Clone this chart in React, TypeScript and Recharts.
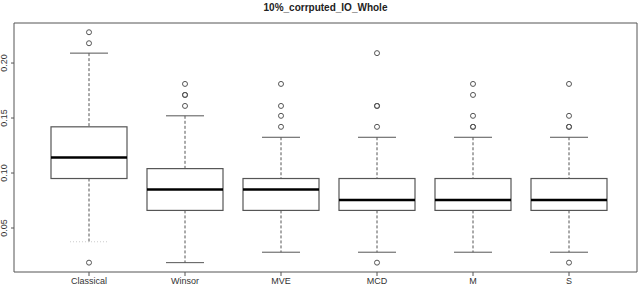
import { Bar, ComposedChart, Scatter, XAxis, YAxis } from "recharts";

const categories = ["Classical", "Winsor", "MVE", "MCD", "M", "S"];
const lowWhisker = [0.0375, 0.0185, 0.028, 0.028, 0.028, 0.028];
const q1 = [0.095, 0.066, 0.066, 0.066, 0.066, 0.066];
const median = [0.114, 0.085, 0.085, 0.0755, 0.0755, 0.0755];
const q3 = [0.142, 0.104, 0.095, 0.095, 0.095, 0.095];
const highWhisker = [0.209, 0.152, 0.1325, 0.1325, 0.1325, 0.1325];
const outliers = [
  [0.228, 0.218, 0.0185],
  [0.181, 0.171, 0.171, 0.161],
  [0.181, 0.161, 0.152, 0.142],
  [0.209, 0.161, 0.161, 0.142, 0.0185],
  [0.181, 0.171, 0.152, 0.142, 0.142],
  [0.181, 0.152, 0.142, 0.142, 0.0185],
];
const yTicks = [0.05, 0.1, 0.15, 0.2];

const maxOut = Math.max(...outliers.map((o) => o.length));
const outKeys = Array.from({ length: maxOut }, (_, k) => `o${k}`);

const data = categories.map((name, i) => {
  const row: any = {
    name,
    range: [lowWhisker[i], highWhisker[i]],
    q1: q1[i],
    median: median[i],
    q3: q3[i],
  };
  outKeys.forEach((key, k) => {
    row[key] = outliers[i][k] ?? null;
  });
  return row;
});

const FONT = "'Liberation Sans', Arial, sans-serif";
const LINE = "#555";

function BoxShape(props: any) {
  const { x, y, width, height, payload, index } = props;
  const [lo, hi] = payload.range;
  const py = (v: number) => y + ((hi - v) / (hi - lo)) * height;
  const cx = x + width / 2;
  const cap = width / 2;
  const yq1 = py(payload.q1);
  const yq3 = py(payload.q3);
  const ymed = py(payload.median);
  return (
    <g>
      <line x1={cx} x2={cx} y1={y} y2={yq3} stroke={LINE} strokeDasharray="3 2" />
      <line x1={cx} x2={cx} y1={yq1} y2={y + height} stroke={LINE} strokeDasharray="3 2" />
      <line x1={cx - cap / 2} x2={cx + cap / 2} y1={y} y2={y} stroke={LINE} />
      <line
        x1={cx - cap / 2}
        x2={cx + cap / 2}
        y1={y + height}
        y2={y + height}
        stroke={index === 0 ? "#ccc" : LINE}
        strokeDasharray={index === 0 ? "1 2" : undefined}
      />
      <rect x={x} y={yq3} width={width} height={yq1 - yq3} fill="#fff" stroke={LINE} strokeWidth={1.2} />
      <line x1={x} x2={x + width} y1={ymed} y2={ymed} stroke="#000" strokeWidth={2.5} />
    </g>
  );
}

function OutlierDot(props: any) {
  const { cx, cy, payload, field } = props;
  if (!Number.isFinite(cx) || !Number.isFinite(cy)) return <g />;
  if (payload && field && payload[field] == null) return <g />;
  return <circle cx={cx} cy={cy} r={2.5} fill="none" stroke={LINE} strokeWidth={1} />;
}

function YTick(props: any) {
  const { x, y, payload } = props;
  return (
    <text
      x={x - 2}
      y={y}
      transform={`rotate(-90 ${x - 2} ${y})`}
      textAnchor="middle"
      fontSize={9}
      fontFamily={FONT}
      fill="#333"
    >
      {payload.value.toFixed(2)}
    </text>
  );
}

export default function App() {
  return (
    <div style={{ position: "absolute", left: 0, top: 0, width: 640, height: 290, background: "#fff" }}>
      <div
        style={{
          position: "absolute",
          left: 14,
          width: 623,
          top: 2,
          textAlign: "center",
          fontFamily: FONT,
          fontWeight: "bold",
          fontSize: 10,
          color: "#222",
        }}
      >
        10%_corrputed_IO_Whole
      </div>
      <ComposedChart
        width={640}
        height={290}
        data={data}
        margin={{ top: 22, right: 0, bottom: 0, left: 0 }}
        barSize={76}
      >
        <XAxis
          dataKey="name"
          type="category"
          padding={{ left: 27, right: 20 }}
          height={18}
          tickSize={4}
          tickLine={{ stroke: LINE }}
          axisLine={{ stroke: LINE }}
          tick={{ fontSize: 9, fontFamily: FONT, fill: "#333" }}
          interval={0}
        />
        <XAxis
          xAxisId="t"
          dataKey="name"
          orientation="top"
          height={1}
          tick={false}
          tickLine={false}
          axisLine={{ stroke: LINE }}
        />
        <YAxis
          type="number"
          domain={[0.01, 0.2364]}
          allowDataOverflow
          ticks={yTicks}
          width={14}
          tickSize={3}
          tickLine={{ stroke: LINE }}
          axisLine={{ stroke: LINE }}
          tick={<YTick />}
        />
        <YAxis
          yAxisId="r"
          orientation="right"
          domain={[0.01, 0.2364]}
          width={3}
          tick={false}
          tickLine={false}
          axisLine={{ stroke: LINE }}
        />
        <Bar dataKey="range" shape={<BoxShape />} isAnimationActive={false} />
        {outKeys.map((key) => (
          <Scatter key={key} dataKey={key} isAnimationActive={false} shape={<OutlierDot field={key} />} />
        ))}
      </ComposedChart>
    </div>
  );
}
